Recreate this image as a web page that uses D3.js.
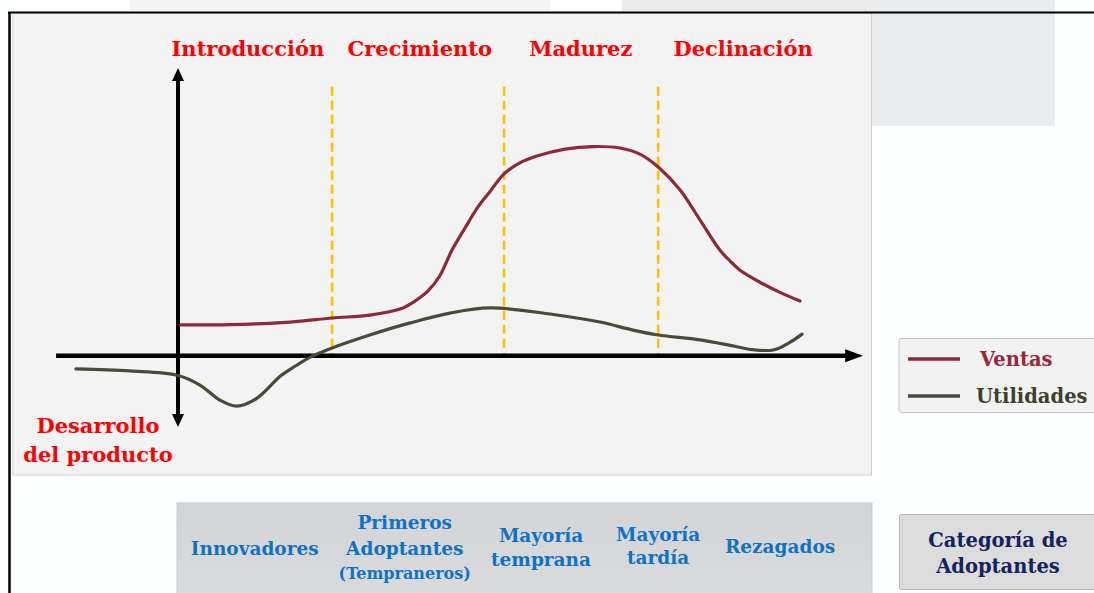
<!DOCTYPE html>
<html>
<head>
<meta charset="utf-8">
<script src="https://cdn.jsdelivr.net/npm/d3@7"></script>
<style>
  html, body { margin: 0; padding: 0; background: #fdfeff; }
  svg { display: block; }
  text { font-family: "DejaVu Serif", "Liberation Serif", serif; font-weight: bold; }
</style>
</head>
<body>
<script>
// ---------------- DATA ----------------
const phases = ["Introducción", "Crecimiento", "Madurez", "Declinación"];
const phaseLabelX = [10.2, 35.3, 58.8, 82.5];
const phaseBounds = [22.5, 47.6, 70.1];

const ventasX = [0.4, 7.6, 16.4, 22.5, 28.0, 32.4, 34.6, 36.5, 38.2, 40.0, 41.9, 43.8, 45.5, 47.6, 49.9, 52.4, 56.5, 60.6, 64.5, 67.5, 70.1, 73.3, 76.2, 79.1, 80.6, 82.0, 84.9, 87.8, 90.8];
const ventasY = [10.7, 10.8, 11.7, 13.1, 14.1, 16.2, 19.0, 22.5, 27.7, 36.7, 44.4, 51.7, 56.9, 63.2, 67.0, 69.4, 71.8, 72.7, 72.2, 70.0, 65.6, 57.6, 47.2, 36.7, 32.9, 29.8, 25.6, 22.1, 19.0];

const utilidadesX = [-14.9, -7.0, -0.1, 3.2, 6.1, 8.6, 11.5, 15.0, 17.2, 19.3, 22.5, 28.0, 33.9, 39.7, 45.5, 54.3, 61.6, 66.4, 70.1, 76.2, 81.0, 83.9, 86.9, 89.3, 91.1];
const utilidadesY = [-4.6, -5.3, -6.8, -10.2, -15.4, -17.5, -14.8, -7.0, -3.5, -0.5, 2.7, 7.2, 11.4, 14.8, 16.6, 14.5, 11.7, 8.9, 7.2, 5.5, 3.4, 2.1, 2.0, 4.6, 7.5];

const seriesNames = ["Ventas", "Utilidades"];
const seriesColors = ["#8c2a36", "#4a4a36"];
const legendTextColors = ["#9b2738", "#3f3f2e"];

const devLabel = ["Desarrollo", "del producto"];

const adopterLabels = [["Innovadores"], ["Primeros", "Adoptantes", "(Tempraneros)"], ["Mayoría", "temprana"], ["Mayoría", "tardía"], ["Rezagados"]];
const adopterX = [11.2, 33.1, 53.0, 70.1, 87.9];
const categoryLabel = ["Categoría de", "Adoptantes"];

// ---------------- LAYOUT ----------------
const W = 1094, H = 593;
const svg = d3.select("body").append("svg").attr("width", W).attr("height", H);

const x = d3.scaleLinear().domain([0, 100]).range([178, 863]);
const y = d3.scaleLinear().domain([0, 100]).range([355.7, 68]);

// faint background shapes
svg.append("rect").attr("x", 0).attr("y", 0).attr("width", W).attr("height", H).attr("fill", "#fdfeff");
svg.append("rect").attr("x", 622).attr("y", 0).attr("width", 433).attr("height", 126).attr("fill", "#ebecee");
svg.append("rect").attr("x", 130).attr("y", 0).attr("width", 420).attr("height", 12).attr("fill", "#f3f4f5");

// chart panel
svg.append("rect").attr("x", 13).attr("y", 13).attr("width", 858.5).attr("height", 462)
  .attr("fill", "#f3f3f3").attr("stroke", "#d2d2d2").attr("stroke-width", 1);

// frame lines
svg.append("line").attr("x1", 8).attr("x2", W).attr("y1", 12.5).attr("y2", 12.5).attr("stroke", "#000").attr("stroke-width", 2);
svg.append("line").attr("x1", 9.5).attr("x2", 9.5).attr("y1", 12).attr("y2", H).attr("stroke", "#000").attr("stroke-width", 2.5);

// dashed phase boundaries
svg.selectAll("line.phase").data(phaseBounds).join("line")
  .attr("class", "phase")
  .attr("x1", d => x(d)).attr("x2", d => x(d))
  .attr("y1", y(93.5)).attr("y2", y(0.8))
  .attr("stroke", "#ffc000").attr("stroke-width", 2.6).attr("stroke-dasharray", "9,5");

// axes
const axisColor = "#000";
svg.append("line").attr("x1", x(-17.8)).attr("x2", x(97.5)).attr("y1", y(0)).attr("y2", y(0))
  .attr("stroke", axisColor).attr("stroke-width", 4.5);
svg.append("path").attr("fill", axisColor)
  .attr("d", `M${x(100)},${y(0)} L${x(97.4)},${y(0) - 6.5} L${x(97.4)},${y(0) + 6.5} Z`);
svg.append("line").attr("x1", x(0)).attr("x2", x(0)).attr("y1", y(95.5)).attr("y2", y(-20.8))
  .attr("stroke", axisColor).attr("stroke-width", 4);
svg.append("path").attr("fill", axisColor)
  .attr("d", `M${x(0)},${y(100)} L${x(0) - 6},${y(100) + 13} L${x(0) + 6},${y(100) + 13} Z`);
svg.append("path").attr("fill", axisColor)
  .attr("d", `M${x(0)},${y(-24.8)} L${x(0) - 6},${y(-24.8) - 13} L${x(0) + 6},${y(-24.8) - 13} Z`);

// series
const line = d3.line().x(d => x(d[0])).y(d => y(d[1])).curve(d3.curveCatmullRom.alpha(0.5));
const series = [d3.zip(ventasX, ventasY), d3.zip(utilidadesX, utilidadesY)];
svg.selectAll("path.series").data(series).join("path")
  .attr("class", "series")
  .attr("d", line)
  .attr("fill", "none")
  .attr("stroke", (d, i) => seriesColors[i])
  .attr("stroke-width", 3.2)
  .attr("stroke-linecap", "round");

// phase labels
svg.selectAll("text.phaseLabel").data(phases).join("text")
  .attr("class", "phaseLabel")
  .attr("x", (d, i) => x(phaseLabelX[i])).attr("y", 56)
  .attr("text-anchor", "middle").attr("fill", "#ff0000").attr("font-size", 21)
  .text(d => d);

// development label
svg.selectAll("text.dev").data(devLabel).join("text")
  .attr("class", "dev")
  .attr("x", 98).attr("y", (d, i) => 433 + i * 29)
  .attr("text-anchor", "middle").attr("fill", "#ff0000").attr("font-size", 21)
  .text(d => d);

// legend
const lg = svg.append("g");
lg.append("rect").attr("x", 899).attr("y", 338.5).attr("width", 210).attr("height", 74)
  .attr("fill", "#f2f2f2").attr("stroke", "#c4c4c4").attr("rx", 2);
seriesNames.forEach((name, i) => {
  const yy = 359 + i * 37;
  lg.append("line").attr("x1", 908).attr("x2", 960).attr("y1", yy).attr("y2", yy)
    .attr("stroke", seriesColors[i]).attr("stroke-width", 3.5);
  lg.append("text").attr("x", i === 0 ? 980 : 976).attr("y", yy + 7)
    .attr("fill", legendTextColors[i]).attr("font-size", 19.5).text(name);
});

// adopters box
const grad = svg.append("defs").append("linearGradient").attr("id", "g1").attr("x1", 0).attr("x2", 0).attr("y1", 0).attr("y2", 1);
grad.append("stop").attr("offset", "0%").attr("stop-color", "#d3d4d6");
grad.append("stop").attr("offset", "100%").attr("stop-color", "#dadbdc");
svg.append("rect").attr("x", 177).attr("y", 503).attr("width", 695).attr("height", 100)
  .attr("fill", "url(#g1)").attr("stroke", "#c9c9c9").attr("stroke-width", 1);

const adopterBaselines = [[555], [529, 555, 579], [542, 566], [541, 564], [553]];
adopterLabels.forEach((lines, i) => {
  lines.forEach((t, j) => {
    svg.append("text").attr("x", x(adopterX[i])).attr("y", adopterBaselines[i][j])
      .attr("text-anchor", "middle").attr("fill", "#0f72c4")
      .attr("font-size", t.startsWith("(") ? 16 : 18.5).text(t);
  });
});

// category box
svg.append("rect").attr("x", 899.5).attr("y", 514.5).attr("width", 210).attr("height", 75)
  .attr("fill", "#dcdcdd").attr("stroke", "#b9b9b9").attr("rx", 2);
svg.selectAll("text.cat").data(categoryLabel).join("text")
  .attr("class", "cat")
  .attr("x", 998).attr("y", (d, i) => 547 + i * 26)
  .attr("text-anchor", "middle").attr("fill", "#13235c").attr("font-size", 19.5)
  .text(d => d);
</script>
</body>
</html>
